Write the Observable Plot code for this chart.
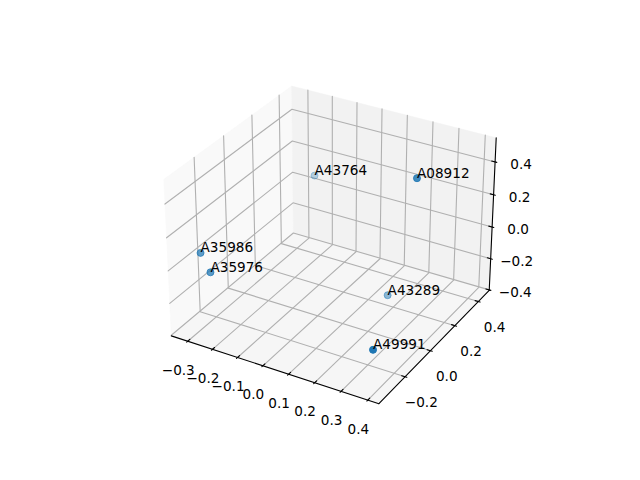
<!DOCTYPE html>
<html><head><meta charset="utf-8">
<style>html,body{margin:0;padding:0;background:#fff}svg{display:block}</style>
<script src="https://cdn.jsdelivr.net/npm/d3@7"></script>
<script src="https://cdn.jsdelivr.net/npm/@observablehq/plot@0.6"></script>
</head><body><script>
const names = ["A49991","A43764","A08912","A43289","A35986","A35976"];
const xs = [0.389,-0.244,0.309,0.172,-0.314,-0.260];
const ys = [-0.341,0.438,0.140,0.210,-0.268,-0.295];
const zs = [-0.151,0.067,0.480,-0.349,0.040,-0.034];
const xTicks = [-0.3,-0.2,-0.1,0,0.1,0.2,0.3,0.4];
const yTicks = [-0.2,0,0.2,0.4];
const zTicks = [-0.4,-0.2,0,0.2,0.4];
const xLim = [-0.351,0.425], yLim = [-0.38,0.477], zLim = [-0.385,0.525];

const span = l => l[1]-l[0];
const pad = l => [l[0]-span(l)/48, l[1]+span(l)/48];
const [x0,x1]=pad(xLim),[y0,y1]=pad(yLim),[z0,z1]=pad(zLim);
const k = 1.8294640721620434/Math.sqrt(41), box=[4*k,4*k,3*k];
const az=-60*Math.PI/180, el=30*Math.PI/180, dist=10;
const w=[Math.cos(el)*Math.cos(az),Math.cos(el)*Math.sin(az),Math.sin(el)];
const cross=(a,b)=>[a[1]*b[2]-a[2]*b[1],a[2]*b[0]-a[0]*b[2],a[0]*b[1]-a[1]*b[0]];
const dot3=(a,b)=>a[0]*b[0]+a[1]*b[1]+a[2]*b[2];
const unit=a=>{const n=Math.hypot(...a);return a.map(v=>v/n)};
const u=unit(cross([0,0,1],w)), v=cross(w,u);
function cam([x,y,z]){
  const p=[(x-xLim[0])/span(xLim)*box[0]-box[0]/2,(y-yLim[0])/span(yLim)*box[1]-box[1]/2,(z-zLim[0])/span(zLim)*box[2]-box[2]/2];
  const e=p.map((c,i)=>c-dist*w[i]);
  return [dot3(u,e),dot3(v,e),dot3(w,e)];
}
const P=q=>{const c=cam(q);return {px:c[0]/-c[2],py:c[1]/-c[2],d:-c[2]}};
const path=(pts,g)=>pts.map(q=>({...P(q),g}));

const paneLeft=path([[x0,y0,z0],[x0,y1,z0],[x0,y1,z1],[x0,y0,z1],[x0,y0,z0]]);
const paneBack=path([[x0,y1,z0],[x1,y1,z0],[x1,y1,z1],[x0,y1,z1],[x0,y1,z0]]);
const paneFloor=path([[x0,y0,z0],[x1,y0,z0],[x1,y1,z0],[x0,y1,z0],[x0,y0,z0]]);
const grid=[
  ...xTicks.flatMap(t=>path([[t,y0,z0],[t,y1,z0],[t,y1,z1]],"x"+t)),
  ...yTicks.flatMap(t=>path([[x1,t,z0],[x0,t,z0],[x0,t,z1]],"y"+t)),
  ...zTicks.flatMap(t=>path([[x0,y0,t],[x0,y1,t],[x1,y1,t]],"z"+t))
];
const axes=[
  ...path([[x0,y0,z0],[x1,y0,z0]],"ax"),
  ...path([[x1,y0,z0],[x1,y1,z0]],"ay"),
  ...path([[x1,y1,z0],[x1,y1,z1]],"az")
];
const dxT=span(xLim)/12, dyT=span(yLim)/12;
const ticks=[
  ...xTicks.flatMap(t=>path([[t,y0-0.1*dyT,z0],[t,y0+0.2*dyT,z0]],"tx"+t)),
  ...yTicks.flatMap(t=>path([[x1+0.1*dxT,t,z0],[x1-0.2*dxT,t,z0]],"ty"+t)),
  ...zTicks.flatMap(t=>path([[x1+0.1*dxT,y1,t],[x1-0.2*dxT,y1,t]],"tz"+t))
];
const fmt=t=>t.toFixed(1).replace("-","\u2212");
const xLab=xTicks.map(t=>({...P([t,y0,z0]),t:fmt(t)}));
const yLab=yTicks.map(t=>({...P([x1,t,z0]),t:fmt(t)}));
const zLab=zTicks.map(t=>({...P([x1,y1,t]),t:fmt(t)}));
const pts=names.map((n,i)=>({...P([xs[i],ys[i],zs[i]]),n}));
const dExt=d3.extent(pts,p=>p.d);
pts.forEach(p=>p.a=1-0.7*(p.d-dExt[0])/(dExt[1]-dExt[0]));
const px=d=>d.px, py=d=>d.py;
const font="'DejaVu Sans'", fs=13.6;

document.body.append(Plot.plot({
  width:640,height:480,
  style:{background:"#fff",fontFamily:font},
  x:{type:"linear",domain:[-0.095,0.09],range:[142.9,512.5],axis:null},
  y:{type:"linear",domain:[-0.095,0.09],range:[426.5,56.9],axis:null},
  marks:[
    Plot.line(paneLeft,{x:px,y:py,fill:"#f9f9f9",stroke:"#f9f9f9",strokeWidth:0.5}),
    Plot.line(paneBack,{x:px,y:py,fill:"#f2f2f2",stroke:"#f2f2f2",strokeWidth:0.5}),
    Plot.line(paneFloor,{x:px,y:py,fill:"#f6f6f6",stroke:"#f6f6f6",strokeWidth:0.5}),
    Plot.line(grid,{x:px,y:py,z:"g",stroke:"#b0b0b0",strokeWidth:1.1}),
    Plot.line(axes,{x:px,y:py,z:"g",stroke:"#000",strokeWidth:1.1}),
    Plot.line(ticks,{x:px,y:py,z:"g",stroke:"#000",strokeWidth:1.1}),
    Plot.text(xLab,{x:px,y:py,text:"t",fontSize:fs,fill:"#000",dx:-9.5,dy:29.2}),
    Plot.text(yLab,{x:px,y:py,text:"t",fontSize:fs,fill:"#000",dx:16.2,dy:26.2}),
    Plot.text(zLab,{x:px,y:py,text:"t",fontSize:fs,fill:"#000",dx:26,dy:2.5}),
    Plot.dot(pts,{x:px,y:py,r:3.5,fill:"#1f77b4",fillOpacity:"a",stroke:"#1f77b4",strokeOpacity:"a",strokeWidth:1}),
    Plot.text(pts,{x:px,y:py,text:"n",fontSize:fs,fill:"#000",textAnchor:"start",lineAnchor:"bottom",dy:-0.5})
  ]
}));
</script></body></html>
